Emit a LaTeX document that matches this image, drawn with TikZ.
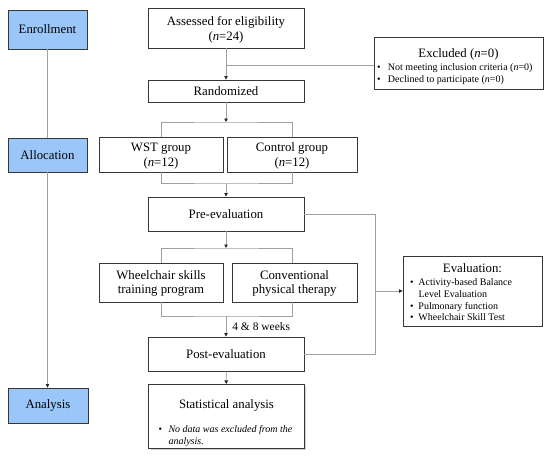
\documentclass[tikz,border=0pt]{standalone}
\usepackage{fontspec}
\setmainfont{Liberation Serif}
\usetikzlibrary{arrows.meta,shadows}
\definecolor{stageblue}{RGB}{155,198,250}
\definecolor{boxline}{RGB}{55,55,55}
\definecolor{connc}{RGB}{160,160,160}
\newcommand\mainfs{\fontsize{12.8}{14.5}\selectfont}
\newcommand\smallfs{\fontsize{10}{11.7}\selectfont}
\newcommand\bul[1]{\makebox[#1][l]{\upshape•}}
\begin{document}
\begin{tikzpicture}[x=1pt,y=-1pt,
  box/.style={draw=boxline, line width=0.9pt, fill=white, inner sep=0pt,
    align=center, font=\mainfs,
    drop shadow={shadow xshift=1.2pt, shadow yshift=-1.4pt, opacity=0.35}},
  stage/.style={box, fill=stageblue},
  conn/.style={draw=connc, line width=0.7pt},
  arr/.style={conn, -{Triangle[length=3.5pt,width=3.5pt,color=black!85]}},
  lbl/.style={font=\fontsize{11.5}{13}\selectfont, inner sep=0pt, anchor=west}
]
\useasboundingbox (0,0) rectangle (550,456);

% stage boxes
\node[stage, minimum width=79, minimum height=39] (enr) at (47.5,29.5) {Enrollment};
\node[stage, minimum width=79, minimum height=34] (alloc) at (47.5,155) {Allocation};
\node[stage, minimum width=80, minimum height=35] (anal) at (48,405.5) {Analysis};

% flow boxes
\node[box, minimum width=156, minimum height=40] (assess) at (226,28) {\rule{0pt}{12.5pt}Assessed for eligibility\\(\textit{n}=24)};
\node[box, minimum width=169, minimum height=52] (excl) at (458.5,63)
  {\rule{0pt}{17.6pt}Excluded (\textit{n}=0)\\[-1pt]
   \makebox[163pt][l]{\smallfs\begin{tabular}[t]{@{}l@{}l@{}}
   \bul{11pt}&Not meeting inclusion criteria (\textit{n}=0)\\
   \bul{11pt}&Declined to participate (\textit{n}=0)\end{tabular}}};
\node[box, minimum width=156, minimum height=22] (rand) at (226,91) {Randomized};
\node[box, minimum width=124, minimum height=35] (wst) at (161,154.5) {\rule{0pt}{12pt}WST group\\(\textit{n}=12)};
\node[box, minimum width=130, minimum height=35] (ctrl) at (292,154.5) {\rule{0pt}{12pt}Control group\\(\textit{n}=12)};
\node[box, minimum width=156, minimum height=34] (pre) at (226,214) {Pre-evaluation};
\node[box, minimum width=124, minimum height=39] (wheel) at (161,282.5) {\rule{0pt}{11pt}Wheelchair skills\\training program};
\node[box, minimum width=125, minimum height=39] (conv) at (294.5,282.5) {\rule{0pt}{11pt}Conventional\\physical therapy};
\node[box, minimum width=156, minimum height=34] (post) at (226,354) {Post-evaluation};
\node[box, minimum width=156, minimum height=61] (stat) at (226.5,416.5)
  {\rule{0pt}{24.4pt}Statistical analysis\\[9pt]
   \makebox[136pt][l]{\fontsize{10}{12.5}\selectfont\itshape\begin{tabular}[t]{@{}l@{}l@{}}
   \bul{10pt}&No data was excluded from the\\
   &analysis.\end{tabular}}};
\node[box, minimum width=139, minimum height=70] (eval) at (472.5,291)
  {\rule{0pt}{14.4pt}Evaluation:\\[-1pt]
   \makebox[125pt][l]{\smallfs\begin{tabular}[t]{@{}l@{}l@{}}
   \bul{8.5pt}&Activity-based Balance\\
   &Level Evaluation\\
   \bul{8.5pt}&Pulmonary function\\
   \bul{8.5pt}&Wheelchair Skill Test\end{tabular}}};

% junction points
\coordinate (exbr) at (226,65);
\coordinate (split1) at (226,122);
\coordinate (merge1) at (226,183);
\coordinate (split2) at (226,248);
\coordinate (merge2) at (226,316);
\coordinate (side) at (375,214);

% stage line
\draw[conn] (enr) -- (alloc);
\draw[arr] (alloc.south) -- (alloc.south |- anal.north);

% main flow
\draw[arr] (assess) -- (rand);
\draw[conn] (exbr) -- (excl.west |- exbr);
\draw[arr] (rand) -- (split1);
\draw[conn] (wst.north) |- (split1) -| (ctrl.north);
\draw[conn] (wst.south) |- (merge1) -| (ctrl.south);
\draw[arr] (merge1) -- (pre);
\draw[arr] (pre) -- (split2);
\draw[conn] (wheel.north) |- (split2) -| ([xshift=-2.5pt]conv.north);
\draw[conn] (wheel.south) |- (merge2) -| ([xshift=-2.5pt]conv.south);
\draw[arr] (merge2) -- (post) node[lbl, pos=0.5, xshift=6pt] (wk) {4 \& 8 weeks};
\draw[arr] (post) -- (stat);

% evaluation side loop
\draw[conn] (pre.east) -- (side) |- (post.east);
\draw[arr] (side |- eval.west) -- (eval.west);
\end{tikzpicture}
\end{document}
